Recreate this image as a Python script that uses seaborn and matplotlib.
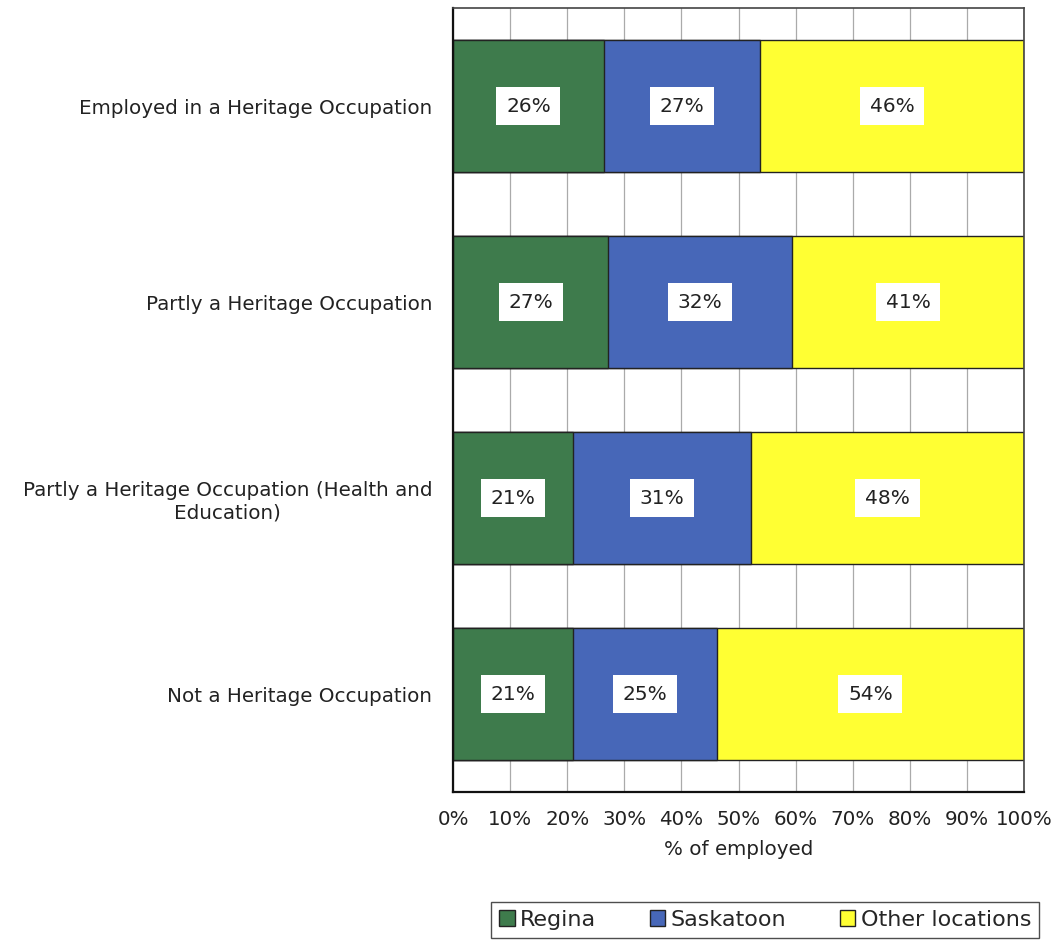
import matplotlib.pyplot as plt
import seaborn as sns
import numpy as np
import pandas as pd
from matplotlib.patches import Patch

# chart data (percent of employed)
categories = ['Employed in a Heritage Occupation',
              'Partly a Heritage Occupation',
              'Partly a Heritage Occupation (Health and\nEducation)',
              'Not a Heritage Occupation']
regina = [26.4, 27.2, 21.0, 21.0]
saskatoon = [27.4, 32.2, 31.2, 25.2]
other = [46.2, 40.6, 47.8, 53.8]
series_names = ['Regina', 'Saskatoon', 'Other locations']
colors = ['#3E7B4C', '#4767B8', '#FFFF33']

sns.set_style('white')
plt.rcParams['font.family'] = ['DejaVu Sans']

df = pd.DataFrame({'category': categories, 'Regina': regina,
                   'Saskatoon': saskatoon, 'Other locations': other})
df['c1'] = df['Regina']
df['c2'] = df['c1'] + df['Saskatoon']
df['c3'] = df['c2'] + df['Other locations']

fig = plt.figure(figsize=(10.57, 9.44), dpi=100)
ax = fig.add_axes([0.4286, 0.1610, 0.5402, 0.8305])

# stacked bars: draw cumulative totals from widest to narrowest
for col, c in zip(['c3', 'c2', 'c1'], colors[::-1]):
    sns.barplot(data=df, x=col, y='category', orient='h', color=c,
                saturation=1, width=0.67, edgecolor='#222222', linewidth=1.0,
                ax=ax, zorder=2)

# value labels in white boxes
starts = [np.zeros(len(categories)), df['c1'].values, df['c2'].values]
for name, st in zip(series_names, starts):
    for i, (s, v) in enumerate(zip(st, df[name].values)):
        ax.text(s + v / 2, i, f'{v:.0f}%', ha='center', va='center',
                fontsize=14.5, color='#222222', zorder=5,
                bbox=dict(facecolor='white', edgecolor='none', pad=7))

ax.set_xlim(0, 100)
ax.set_ylim(3.5, -0.5)
ax.set_xticks(np.arange(0, 101, 10))
ax.set_xticklabels([f'{t}%' for t in range(0, 101, 10)], fontsize=14.3)
ax.xaxis.grid(True, color='#aaaaaa', linewidth=0.9, zorder=0)
ax.set_axisbelow(True)

ax.set_yticks(range(len(categories)))
ax.set_yticklabels(categories, fontsize=14.3)
ax.set_yticks(np.arange(-0.5, 4, 1), minor=True)
ax.tick_params(axis='y', which='major', length=0, pad=15, colors='#222222')
ax.tick_params(axis='y', which='minor', length=6, width=1.2, direction='out', color='#444444')
ax.tick_params(axis='x', which='major', length=7, width=1.2, direction='out',
               color='#444444', labelcolor='#222222', pad=6)
for lab in ax.get_yticklabels():
    lab.set_multialignment('center')

ax.set_xlabel('% of employed', fontsize=14.3, color='#222222', labelpad=8)
ax.set_ylabel('')

for side in ['left', 'bottom']:
    ax.spines[side].set_color('#111111')
    ax.spines[side].set_linewidth(1.6)
for side in ['top', 'right']:
    ax.spines[side].set_color('#444444')
    ax.spines[side].set_linewidth(1.2)

handles = [Patch(facecolor=c, edgecolor='#222222', linewidth=1.0) for c in colors]
fig.legend(handles, series_names, loc='center', bbox_to_anchor=(0.724, 0.0255),
           ncol=3, fontsize=16, frameon=True, fancybox=False, edgecolor='#222222',
           handlelength=0.7, handleheight=0.7, handletextpad=0.25, columnspacing=2.4,
           borderpad=0.35, borderaxespad=0)

fig.savefig('out.png', dpi=100)
